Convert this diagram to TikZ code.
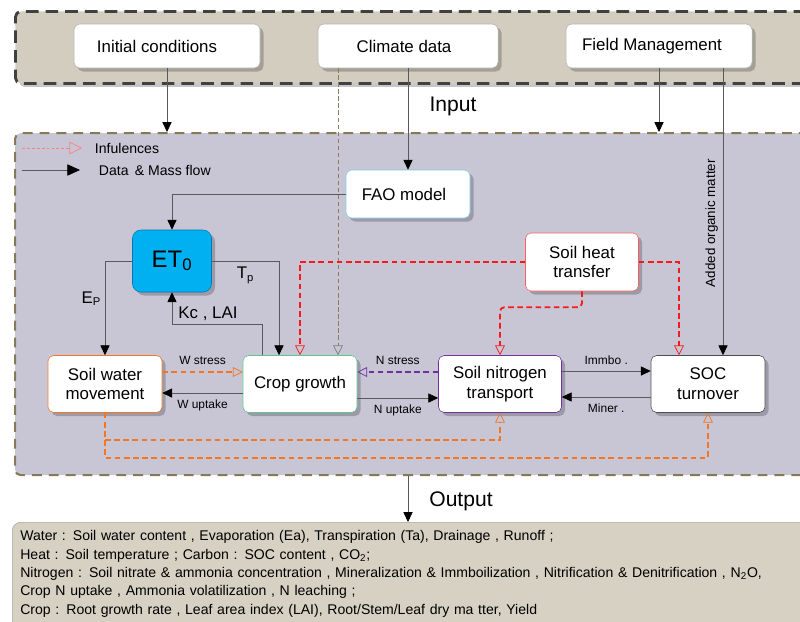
\documentclass[tikz,border=0pt]{standalone}
\usepackage{fontspec}
\setmainfont{Liberation Sans}
\usetikzlibrary{arrows.meta, shadows, calc}

\definecolor{inputtan}{RGB}{211,205,191}
\definecolor{modelgray}{RGB}{200,198,213}
\definecolor{outputtan}{RGB}{214,209,195}
\definecolor{framebrown}{RGB}{135,121,88}
\definecolor{climbrown}{RGB}{140,125,95}
\definecolor{etblue}{RGB}{0,176,240}
\definecolor{etborder}{RGB}{0,120,180}
\definecolor{heatred}{RGB}{250,25,25}
\definecolor{waterorange}{RGB}{242,118,36}
\definecolor{nitropurple}{RGB}{112,48,160}
\definecolor{cropgreen}{RGB}{90,200,140}
\definecolor{faoblue}{RGB}{120,205,230}

\begin{document}
\begin{tikzpicture}[x=0.025cm, y=-0.025cm,
    shade box/.style={rounded corners=4pt, drop shadow={shadow xshift=2.5pt, shadow yshift=-2.5pt, fill=black, opacity=0.22}},
    inbox/.style={shade box, draw=black!30, fill=white, minimum width=4.65cm, minimum height=1.1cm, font=\fontsize{12}{14}\selectfont},
    procbox/.style={shade box, draw=#1, fill=white, align=center, minimum width=2.85cm, minimum height=1.425cm, font=\fontsize{12}{14}\selectfont},
    lbl/.style={font=\fontsize{8.5}{10}\selectfont, inner sep=4.5pt},
    wlbl/.style={font=\fontsize{12}{14}\selectfont, inner sep=2.5pt},
    flow/.style={draw=black!65, line width=0.5pt, -{Triangle[length=7pt, width=6.5pt, color=black]}},
    infl/.style={draw=#1, line width=1.3pt, dash pattern=on 4pt off 2.5pt, -{Triangle[open, length=7pt, width=7pt, line width=0.5pt]}},
]
\useasboundingbox (0,0) rectangle (800,621);
\clip (0,0) rectangle (800,621);

% Frames
\node[shade box, draw=black!75, fill=inputtan, line width=2pt, dash pattern=on 9pt off 5pt, minimum width=20.4cm, minimum height=1.8cm, anchor=north west] (input) at (14,10) {};
\node[rounded corners=4pt, draw=framebrown, fill=modelgray, line width=1.5pt, dash pattern=on 7pt off 5pt, minimum width=20.4cm, minimum height=8.55cm, anchor=north west] (model) at (14,132) {};
\node[rounded corners=6pt, draw=black!35, fill=outputtan, anchor=north west, text width=20cm, inner xsep=0.2cm, inner ysep=6pt, align=left, font=\fontsize{10}{13}\selectfont] (out) at (12,522) {Water : Soil water content , Evaporation (Ea),  Transpiration (Ta), Drainage ,  Runoff ;\\
Heat : Soil temperature ; Carbon  : SOC content , CO\textsubscript{2};\\
Nitrogen  : Soil nitrate \& ammonia concentration , Mineralization  \& Immboilization  , Nitrification  \& Denitrification , N\textsubscript{2}O,\\
Crop  N uptake , Ammonia volatilization ,  N leaching ;\\
Crop : Root growth rate , Leaf area index (LAI), Root/Stem/Leaf dry ma tter,  Yield\\
\mbox{}};

% Input boxes
\node[inbox] (init) at (167,46) {Initial conditions\hspace*{0.5cm}};
\node[inbox, minimum width=4.5cm] (climate) at (408,46) {Climate data\hspace*{0.2cm}};
\node[inbox] (field) at (659,46) {Field Management\hspace*{0.35cm}};
\node[font=\fontsize{15}{17}\selectfont] (inlbl) at (453,106) {Input};
\node[font=\fontsize{15}{17}\selectfont] (outlbl) at (461,501) {Output};

% Legend
\coordinate (infA) at (22,148);
\coordinate (infB) at (82,148);
\coordinate (datA) at (22,170);
\coordinate (datB) at (80,170);
\draw[draw=heatred!55, line width=0.4pt, dash pattern=on 2pt off 1.5pt, -{Triangle[open, length=9pt, width=9pt, line width=0.5pt]}] (infA) -- (infB);
\draw[draw=black!65, line width=0.5pt, -{Triangle[length=9pt, width=8pt, color=black]}] (datA) -- (datB);
\node[anchor=west, font=\fontsize{10}{12}\selectfont] (inflbl) at (90,148) {Infulences};
\node[anchor=west, font=\fontsize{10}{12}\selectfont] (datlbl) at (94,170) {Data \,\& Mass flow};

% Model boxes
\node[procbox=faoblue, minimum width=3.1cm, minimum height=1.2cm] (fao) at (408,194) {FAO model\hspace*{0.2cm}};
\node[shade box, draw=etborder, fill=etblue, rounded corners=6pt, minimum width=1.975cm, minimum height=1.55cm, font=\fontsize{17}{19}\selectfont] (et) at (172,261) {ET\textsubscript{0}};
\node[procbox=waterorange] (swm) at (105,384) {Soil water\\movement};
\node[procbox=cropgreen] (crop) at (300,384) {Crop growth};
\node[procbox=nitropurple, minimum width=3.075cm] (snt) at (500,384) {Soil nitrogen\\transport};
\node[procbox=black!70] (soc) at (708,384) {SOC\\turnover};
\node[procbox=heatred!70, minimum width=2.825cm, minimum height=1.45cm] (heat) at (582,262) {Soil heat\\transfer};

% Input flows
\draw[flow] (init.south) -- (init.south |- model.north);
\draw[flow] (field.south) -- (field.south |- model.north);
\draw[flow] (climate.south) -- (fao.north);
\draw[draw=climbrown, line width=0.7pt, dash pattern=on 3pt off 2pt, -{Triangle[open, length=7pt, width=7pt, line width=0.5pt, color=black!50]}] ($(climate.south)+(-70,0)$) -- ($(crop.north)+(38,0)$);
\draw[flow] ($(field.south)+(64,0)$) -- node[pos=0.54, rotate=90, anchor=south, font=\fontsize{9.5}{11}\selectfont] {Added organic matter} ($(soc.north)+(15,0)$);

% Water and ET
\draw[flow] (fao.west) -| (et.north);
\draw[flow] (et.west) -| node[wlbl, pos=0.7, left] {E\textsubscript{P}} (swm.north);
\draw[flow] (et.east) -| node[wlbl, pos=0.25, below, inner sep=4pt] {T\textsubscript{p}} ($(crop.north)+(-21,0)$);
\draw[flow] ($(crop.north)+(-38,0)$) -- ++(0,-31) -| node[wlbl, pos=0.3, above] {Kc , LAI} (et.south);
\draw[infl=waterorange] ($(swm.east)+(0,-12)$) -- node[lbl, above] {W stress} ($(crop.west)+(0,-12)$);
\draw[flow] ($(crop.west)+(0,9)$) -- node[lbl, below] {W uptake} ($(swm.east)+(0,9)$);
\draw[infl=waterorange] (swm.south) -- ++(0,45) -| (soc.south);
\draw[infl=waterorange] ($(swm.south)+(0,27)$) -| (snt.south);

% Heat
\draw[infl=heatred] (heat.west) -| (crop.north);
\draw[infl=heatred] (heat.east) -| ($(soc.north)+(-29,0)$);
\draw[infl=heatred, rounded corners=3pt] (heat.south) -- ++(0,16) -| (snt.north);

% Nitrogen and carbon
\draw[infl=nitropurple] ($(snt.west)+(0,-12)$) -- node[lbl, above] {N stress} ($(crop.east)+(0,-12)$);
\draw[flow] ($(crop.east)+(0,14)$) -- node[lbl, below] {N uptake} ($(snt.west)+(0,14)$);
\draw[flow] ($(snt.east)+(0,-13)$) -- node[lbl, above] {Immbo .} ($(soc.west)+(0,-13)$);
\draw[flow] ($(soc.west)+(0,13)$) -- node[lbl, below] {Miner .} ($(snt.east)+(0,13)$);

% Output
\draw[flow] (model.south -| climate.south) -- (climate.south |- out.north);
\end{tikzpicture}
\end{document}
